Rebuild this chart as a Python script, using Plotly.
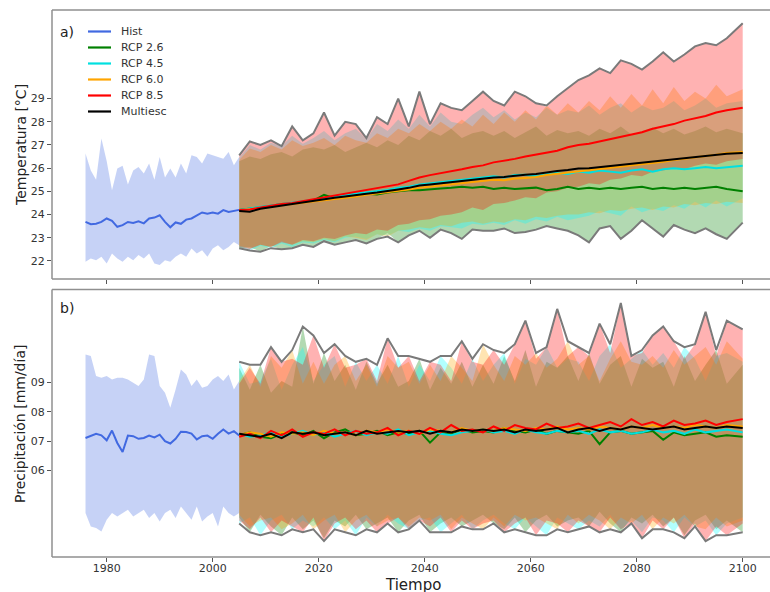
import numpy as np
import plotly.graph_objects as go

# ---------------- DATA ----------------
hist_years = list(range(1976, 2006))
fut_years = list(range(2005, 2099, 2)) + [2100]

# Temperature, historical
hist_temp_mean = [23.68, 23.58, 23.60, 23.68, 23.83, 23.73, 23.47, 23.54, 23.68, 23.64,
                  23.71, 23.62, 23.83, 23.87, 23.97, 23.68, 23.45, 23.66, 23.60, 23.78,
                  23.83, 23.97, 24.09, 24.04, 24.09, 24.04, 24.19, 24.11, 24.16, 24.20]
hist_temp_hi = [26.63, 25.90, 25.50, 27.28, 26.30, 25.05, 25.98, 26.10, 25.30, 25.90,
                26.05, 25.77, 26.20, 25.50, 26.48, 25.60, 25.98, 25.60, 26.20, 25.77,
                26.56, 26.48, 26.20, 26.63, 26.56, 26.48, 26.41, 26.70, 26.13, 26.48]
hist_temp_lo = [21.96, 22.10, 22.03, 22.18, 21.89, 22.32, 22.10, 21.96, 22.18, 22.03,
                22.25, 22.10, 22.32, 21.89, 21.82, 22.03, 21.96, 22.18, 22.32, 22.18,
                22.53, 22.32, 22.46, 22.18, 22.53, 22.68, 22.46, 22.60, 22.82, 22.68]

# Temperature, scenarios (means)
temp_rcp26_mean = [24.20, 24.25, 24.30, 24.38, 24.45, 24.48, 24.55, 24.60,
                   24.85, 24.70, 24.76, 24.82, 24.90, 24.86, 24.95, 25.00,
                   25.05, 25.05, 25.10, 25.12, 25.15, 25.20, 25.15, 25.20,
                   25.10, 25.15, 25.10, 25.12, 25.16, 25.05, 25.10, 25.20,
                   25.10, 25.15, 25.10, 25.15, 25.10, 25.15, 25.20, 25.10,
                   25.15, 25.10, 25.15, 25.10, 25.15, 25.20, 25.10, 25.00]
temp_rcp45_mean = [24.20, 24.26, 24.32, 24.40, 24.45, 24.50, 24.55, 24.62,
                   24.70, 24.76, 24.85, 24.90, 24.96, 25.02, 25.06, 25.15,
                   25.20, 25.30, 25.35, 25.40, 25.48, 25.50, 25.55, 25.60,
                   25.65, 25.60, 25.70, 25.72, 25.65, 25.75, 25.80, 25.75,
                   25.85, 25.80, 25.90, 25.85, 25.80, 25.90, 25.95, 25.85,
                   25.95, 26.00, 25.95, 26.00, 26.05, 26.00, 26.05, 26.10]
temp_rcp60_mean = [24.18, 24.22, 24.28, 24.35, 24.40, 24.45, 24.50, 24.55,
                   24.62, 24.66, 24.72, 24.78, 24.85, 24.90, 24.95, 25.02,
                   25.08, 25.15, 25.20, 25.25, 25.30, 25.36, 25.40, 25.45,
                   25.50, 25.48, 25.55, 25.58, 25.62, 25.70, 25.75, 25.80,
                   25.85, 25.90, 25.95, 26.00, 26.05, 26.10, 26.15, 26.20,
                   26.28, 26.35, 26.40, 26.45, 26.50, 26.58, 26.65, 26.70]
temp_rcp85_mean = [24.20, 24.22, 24.30, 24.38, 24.45, 24.50, 24.58, 24.65,
                   24.72, 24.80, 24.88, 24.95, 25.05, 25.12, 25.20, 25.30,
                   25.45, 25.60, 25.70, 25.78, 25.85, 25.95, 26.05, 26.12,
                   26.25, 26.32, 26.40, 26.50, 26.58, 26.65, 26.75, 26.90,
                   27.00, 27.05, 27.15, 27.25, 27.35, 27.45, 27.55, 27.70,
                   27.80, 27.90, 28.05, 28.15, 28.25, 28.40, 28.50, 28.60]
temp_multi_mean = [24.15, 24.12, 24.25, 24.32, 24.40, 24.45, 24.52, 24.60,
                   24.68, 24.72, 24.78, 24.85, 24.90, 24.95, 25.00, 25.08,
                   25.15, 25.25, 25.30, 25.35, 25.42, 25.45, 25.50, 25.55,
                   25.60, 25.62, 25.68, 25.72, 25.75, 25.82, 25.88, 25.92,
                   25.98, 26.00, 26.05, 26.10, 26.12, 26.18, 26.22, 26.28,
                   26.32, 26.38, 26.42, 26.48, 26.52, 26.58, 26.62, 26.65]

# Temperature, scenario ranges
temp_rcp26_lo = [22.55, 22.60, 22.40, 22.65, 22.50, 22.55, 22.70, 22.60,
                 22.85, 22.70, 22.80, 22.90, 22.75, 22.95, 23.20, 22.80,
                 23.10, 23.30, 23.00, 23.35, 23.20, 22.95, 23.35, 23.30,
                 23.30, 23.40, 23.20, 23.25, 23.35, 23.50, 23.40, 23.30,
                 23.10, 22.80, 23.40, 23.50, 22.95, 23.30, 23.75, 23.40,
                 23.05, 23.55, 23.35, 23.20, 23.40, 23.15, 22.95, 23.65]
temp_rcp26_hi = [26.30, 26.50, 26.40, 26.60, 26.70, 26.50, 26.80, 26.90,
                 26.80, 27.00, 26.70, 26.90, 27.10, 26.90, 27.20, 27.00,
                 27.40, 27.20, 27.60, 27.40, 27.70, 27.30, 27.50, 27.60,
                 27.40, 27.60, 27.30, 27.55, 27.80, 27.40, 27.65, 27.50,
                 27.60, 27.40, 27.70, 27.50, 27.80, 27.45, 27.60, 27.75,
                 27.50, 27.70, 27.45, 27.60, 27.80, 27.55, 27.70, 27.50]
temp_rcp45_lo = [22.60, 22.45, 22.65, 22.55, 22.75, 22.60, 22.80, 22.75,
                 22.90, 22.80, 23.00, 23.05, 22.95, 23.15, 23.10, 23.30,
                 23.25, 23.40, 23.30, 23.50, 23.45, 23.40, 23.60, 23.55,
                 23.65, 23.55, 23.75, 23.60, 23.80, 23.70, 23.90, 23.75,
                 23.85, 23.95, 24.15, 24.05, 23.95, 24.35, 24.10, 24.25,
                 24.15, 24.40, 24.25, 24.55, 24.30, 24.60, 24.35, 24.70]
temp_rcp45_hi = [26.45, 27.00, 26.80, 27.10, 26.95, 27.40, 27.05, 27.30,
                 27.60, 27.20, 27.50, 27.70, 27.25, 27.90, 27.60, 28.10,
                 27.70, 28.30, 27.80, 28.40, 28.00, 27.90, 28.30, 28.60,
                 28.20, 28.50, 28.10, 28.40, 28.20, 28.60, 28.30, 28.50,
                 28.40, 28.70, 28.30, 28.60, 28.80, 28.40, 28.70, 28.50,
                 28.60, 28.90, 28.50, 28.70, 29.00, 28.60, 28.80, 28.90]
temp_rcp60_lo = [22.65, 22.55, 22.70, 22.60, 22.85, 22.70, 22.85, 22.80,
                 22.95, 22.85, 23.05, 23.00, 22.90, 23.15, 23.05, 23.30,
                 23.35, 23.45, 23.40, 23.55, 23.50, 23.65, 23.70, 23.60,
                 23.70, 23.65, 23.80, 23.75, 23.90, 23.85, 23.95, 24.00,
                 24.00, 24.10, 24.05, 24.20, 24.15, 24.25, 24.30, 24.20,
                 24.35, 24.30, 24.45, 24.40, 24.50, 24.45, 24.55, 24.50]
temp_rcp60_hi = [26.35, 26.85, 26.70, 27.00, 26.80, 27.20, 26.95, 27.10,
                 27.30, 27.00, 27.40, 27.20, 27.10, 27.50, 27.30, 27.70,
                 27.50, 27.90, 27.60, 28.00, 27.70, 28.10, 27.80, 28.30,
                 27.90, 28.40, 28.00, 28.50, 28.10, 28.70, 28.30, 28.80,
                 28.40, 28.90, 28.50, 29.10, 28.60, 29.20, 28.70, 29.40,
                 28.80, 29.50, 28.90, 29.30, 29.00, 29.60, 29.10, 29.40]
temp_rcp85_lo = [22.60, 22.50, 22.70, 22.60, 22.80, 22.70, 22.90, 22.85,
                 23.00, 22.95, 23.10, 23.20, 23.15, 23.35, 23.30, 23.55,
                 23.60, 23.75, 23.80, 23.95, 24.00, 24.10, 24.30, 24.20,
                 24.45, 24.50, 24.60, 24.75, 24.70, 24.95, 25.00, 25.15,
                 25.20, 25.35, 25.30, 25.50, 25.55, 25.70, 25.65, 25.85,
                 25.90, 26.00, 25.95, 26.10, 26.20, 26.15, 26.30, 26.40]
temp_rcp85_hi = [26.55, 27.15, 27.00, 27.20, 26.90, 27.80, 27.20, 27.50,
                 28.40, 27.40, 28.00, 27.90, 27.30, 28.20, 27.90, 29.00,
                 27.80, 29.30, 27.90, 28.80, 28.60, 28.50, 28.90, 29.30,
                 28.90, 28.70, 29.30, 29.10, 28.80, 28.65, 29.10, 29.45,
                 29.80, 30.00, 30.30, 30.10, 30.65, 30.50, 30.25, 30.60,
                 31.00, 30.60, 30.90, 31.25, 31.40, 31.30, 31.60, 32.25]

# Precipitation, historical
hist_prec_mean = [7.11, 7.19, 7.25, 7.20, 7.03, 7.36, 6.94, 6.63, 7.19, 7.17,
                  7.08, 7.11, 7.19, 7.13, 7.22, 7.00, 6.92, 7.08, 7.32, 7.31,
                  7.26, 7.06, 7.17, 7.19, 7.08, 7.25, 7.40, 7.26, 7.34, 7.19]
hist_prec_hi = [9.95, 9.90, 9.22, 9.16, 9.22, 9.10, 9.16, 9.16, 9.10, 8.99,
                8.88, 9.10, 9.95, 9.90, 8.88, 8.65, 8.14, 8.76, 9.44, 9.27,
                8.88, 9.10, 8.82, 8.88, 9.10, 9.22, 9.05, 9.27, 8.76, 9.05]
hist_prec_lo = [4.56, 4.10, 4.05, 3.93, 4.33, 4.56, 4.44, 4.56, 4.67, 4.44,
                4.56, 4.67, 4.39, 4.56, 4.27, 4.56, 4.67, 4.39, 4.78, 4.56,
                4.33, 4.78, 4.27, 4.44, 4.56, 4.10, 4.78, 4.56, 4.44, 4.56]

# Precipitation, scenarios (means)
prec_rcp26_mean = [7.20, 7.30, 7.15, 7.10, 7.25, 7.30, 7.20, 7.35,
                   7.10, 7.30, 7.40, 7.20, 7.25, 7.35, 7.20, 7.30,
                   7.25, 7.35, 6.95, 7.30, 7.25, 7.40, 7.30, 7.35,
                   7.30, 7.45, 7.35, 7.30, 7.40, 7.25, 7.35, 7.30,
                   7.25, 7.35, 6.90, 7.30, 7.35, 7.25, 7.30, 7.35,
                   7.05, 7.30, 7.20, 7.25, 7.30, 7.15, 7.20, 7.15]
prec_rcp45_mean = [7.25, 7.15, 7.20, 7.30, 7.15, 7.25, 7.35, 7.20,
                   7.30, 7.15, 7.25, 7.35, 7.20, 7.30, 7.25, 7.40,
                   7.20, 7.30, 7.35, 7.25, 7.20, 7.30, 7.35, 7.40,
                   7.30, 7.35, 7.25, 7.40, 7.30, 7.25, 7.35, 7.30,
                   7.35, 7.25, 7.40, 7.30, 7.35, 7.25, 7.30, 7.40,
                   7.30, 7.35, 7.25, 7.40, 7.30, 7.35, 7.40, 7.30]
prec_rcp60_mean = [7.20, 7.30, 7.25, 7.15, 7.30, 7.25, 7.30, 7.20,
                   7.35, 7.25, 7.30, 7.20, 7.35, 7.30, 7.40, 7.30,
                   7.35, 7.25, 7.40, 7.35, 7.30, 7.45, 7.35, 7.40,
                   7.35, 7.45, 7.40, 7.35, 7.45, 7.40, 7.50, 7.40,
                   7.45, 7.40, 7.50, 7.45, 7.40, 7.50, 7.45, 7.55,
                   7.45, 7.50, 7.45, 7.55, 7.50, 7.45, 7.55, 7.50]
prec_rcp85_mean = [7.15, 7.25, 7.10, 7.35, 7.20, 7.40, 7.15, 7.30,
                   7.25, 7.40, 7.20, 7.35, 7.25, 7.30, 7.45, 7.20,
                   7.35, 7.25, 7.45, 7.30, 7.55, 7.35, 7.40, 7.30,
                   7.50, 7.35, 7.55, 7.45, 7.40, 7.60, 7.45, 7.50,
                   7.60, 7.45, 7.55, 7.65, 7.50, 7.75, 7.55, 7.65,
                   7.50, 7.70, 7.55, 7.60, 7.70, 7.55, 7.65, 7.75]
prec_multi_mean = [7.25, 7.20, 7.15, 7.25, 7.10, 7.30, 7.25, 7.30,
                   7.20, 7.25, 7.30, 7.20, 7.35, 7.25, 7.30, 7.35,
                   7.30, 7.35, 7.25, 7.35, 7.30, 7.40, 7.35, 7.40,
                   7.35, 7.40, 7.30, 7.40, 7.35, 7.40, 7.45, 7.30,
                   7.40, 7.45, 7.35, 7.45, 7.40, 7.50, 7.45, 7.40,
                   7.45, 7.50, 7.40, 7.45, 7.50, 7.45, 7.50, 7.45]

# Precipitation, scenario ranges
prec_rcp26_hi = [9.50, 8.75, 9.60, 8.65, 9.05, 8.85, 10.90, 8.95,
                 10.00, 9.05, 9.60, 8.75, 9.70, 8.95, 9.60, 8.85,
                 9.05, 9.80, 8.75, 9.50, 8.95, 9.70, 8.85, 9.60,
                 8.95, 9.90, 9.05, 10.10, 8.85, 9.70, 9.50, 9.90,
                 9.05, 10.00, 8.95, 9.60, 9.90, 8.85, 9.80, 9.50,
                 9.70, 8.85, 9.90, 9.05, 9.60, 10.10, 8.95, 9.60]
prec_rcp26_lo = [4.40, 3.90, 4.50, 4.10, 3.80, 4.40, 4.00, 4.30,
                 3.70, 4.30, 4.10, 4.50, 4.00, 4.20, 4.40, 3.90,
                 4.30, 4.50, 3.90, 4.20, 4.40, 4.10, 4.30, 4.50,
                 4.20, 4.00, 4.40, 3.90, 4.30, 4.50, 4.10, 4.30,
                 4.40, 4.10, 4.60, 4.20, 3.90, 4.40, 4.20, 4.50,
                 4.10, 4.40, 3.80, 4.30, 4.50, 4.00, 4.30, 3.90]
prec_rcp45_hi = [9.70, 8.95, 9.05, 9.80, 8.75, 9.60, 10.20, 9.05,
                 9.60, 9.90, 8.85, 9.70, 9.05, 9.60, 8.95, 9.90,
                 8.85, 9.60, 9.05, 9.90, 9.50, 8.95, 9.80, 9.05,
                 9.60, 10.00, 8.95, 9.80, 9.60, 10.20, 9.50, 9.80,
                 9.70, 9.05, 9.90, 10.30, 9.50, 9.80, 10.10, 9.60,
                 10.00, 9.50, 10.20, 9.80, 9.05, 9.90, 10.00, 9.70]
prec_rcp45_lo = [4.20, 4.40, 3.80, 4.30, 4.50, 4.00, 4.30, 4.10,
                 4.40, 4.00, 4.30, 3.80, 4.40, 4.10, 4.50, 4.20,
                 4.00, 4.30, 4.40, 3.90, 4.20, 4.50, 4.00, 4.30,
                 4.50, 4.20, 4.00, 4.40, 4.10, 3.80, 4.40, 4.20,
                 4.00, 4.30, 4.10, 4.50, 4.00, 4.30, 3.90, 4.40,
                 4.30, 3.90, 4.40, 4.10, 4.30, 3.80, 4.20, 4.40]
prec_rcp60_hi = [9.05, 9.60, 8.85, 9.90, 9.50, 10.10, 8.95, 9.70,
                 8.95, 9.60, 9.90, 9.05, 9.60, 8.85, 9.90, 9.50,
                 9.70, 8.95, 9.60, 9.05, 9.90, 9.50, 9.05, 10.30,
                 9.60, 9.05, 9.90, 9.60, 10.00, 9.50, 9.80, 10.40,
                 9.60, 9.90, 9.05, 9.80, 10.40, 9.70, 9.60, 9.90,
                 9.50, 10.10, 9.60, 9.90, 10.20, 9.60, 10.40, 9.80]
prec_rcp60_lo = [4.50, 4.10, 4.30, 4.40, 4.00, 4.20, 4.50, 4.00,
                 4.30, 4.50, 3.90, 4.30, 4.50, 4.10, 4.30, 4.40,
                 4.10, 4.40, 4.30, 4.50, 4.00, 4.40, 4.20, 4.00,
                 4.40, 4.10, 4.50, 4.30, 4.40, 4.20, 4.00, 4.50,
                 4.20, 4.50, 4.30, 4.00, 4.40, 4.20, 4.50, 4.00,
                 4.40, 4.20, 4.50, 4.10, 4.00, 4.40, 4.10, 4.30]
prec_rcp85_hi = [8.95, 9.50, 8.95, 10.20, 9.70, 9.80, 9.60, 10.60,
                 9.50, 10.30, 9.50, 9.60, 9.80, 9.05, 10.50, 9.50,
                 9.90, 9.05, 9.70, 9.60, 9.05, 10.40, 9.70, 9.60,
                 10.10, 9.60, 10.30, 11.10, 9.80, 10.20, 11.50, 9.90,
                 10.20, 9.90, 11.00, 10.00, 11.70, 9.90, 10.00, 10.60,
                 10.90, 10.40, 9.80, 10.30, 11.40, 9.90, 11.10, 10.80]
prec_rcp85_lo = [4.30, 4.00, 4.40, 3.90, 4.30, 4.10, 3.90, 4.40,
                 3.60, 4.20, 4.40, 4.00, 4.30, 3.90, 4.20, 4.40,
                 4.00, 4.30, 4.10, 4.40, 3.90, 4.30, 4.00, 4.20,
                 4.30, 3.90, 4.20, 4.40, 3.80, 4.30, 4.20, 3.90,
                 4.30, 4.10, 3.90, 4.40, 4.00, 4.20, 3.70, 4.30,
                 4.00, 4.40, 3.70, 4.20, 3.60, 4.10, 3.80, 4.20]

legend_labels = ["Hist", "RCP 2.6", "RCP 4.5", "RCP 6.0", "RCP 8.5", "Multiesc"]
x_ticks = [1980, 2000, 2020, 2040, 2060, 2080, 2100]
temp_ticks = [22, 23, 24, 25, 26, 27, 28, 29]
prec_ticks = [6, 7, 8, 9]
prec_tick_text = ["06", "07", "08", "09"]

# ---------------- STYLE ----------------
# the figure is wider than the window so that the plot's right edge
# (cropped in the reference) falls outside the picture
W, H = 790, 592
ML, MR, MT, MB = 52, 0, 10, 35
PW, PH = W - ML - MR, H - MT - MB
FONT = "DejaVu Sans"

line_colors = ["#4169E1", "#008000", "#00e0e0", "#FFA500", "#FF0000", "#000000"]
hist_fill = "rgba(65,105,225,0.30)"
band_fills = ["rgba(0,128,0,0.30)", "rgba(0,255,255,0.30)",
              "rgba(255,165,0,0.30)", "rgba(255,0,0,0.30)"]
env_color = "#7a7a7a"
frame_color = "#8f8f8f"


def px_x(px):
    return (px - ML) / PW


def px_y(py):
    return (H - MB - py) / PH


fig = go.Figure()


def add_band(x, lo, hi, color, xa, ya):
    fig.add_trace(go.Scatter(
        x=list(x) + list(x)[::-1], y=list(hi) + list(lo)[::-1],
        fill="toself", fillcolor=color, line=dict(width=0),
        mode="lines", hoverinfo="skip", showlegend=False, xaxis=xa, yaxis=ya))


def add_line(x, y, color, xa, ya, width=2.0):
    fig.add_trace(go.Scatter(x=x, y=y, mode="lines", line=dict(color=color, width=width),
                             showlegend=False, xaxis=xa, yaxis=ya))


panels = [
    ("x2", "y2", hist_temp_mean, hist_temp_lo, hist_temp_hi,
     [temp_rcp26_mean, temp_rcp45_mean, temp_rcp60_mean, temp_rcp85_mean, temp_multi_mean],
     [(temp_rcp26_lo, temp_rcp26_hi), (temp_rcp45_lo, temp_rcp45_hi),
      (temp_rcp60_lo, temp_rcp60_hi), (temp_rcp85_lo, temp_rcp85_hi)]),
    ("x", "y", hist_prec_mean, hist_prec_lo, hist_prec_hi,
     [prec_rcp26_mean, prec_rcp45_mean, prec_rcp60_mean, prec_rcp85_mean, prec_multi_mean],
     [(prec_rcp26_lo, prec_rcp26_hi), (prec_rcp45_lo, prec_rcp45_hi),
      (prec_rcp60_lo, prec_rcp60_hi), (prec_rcp85_lo, prec_rcp85_hi)]),
]

for xa, ya, hm, hlo, hhi, means, bands in panels:
    add_band(hist_years, hlo, hhi, hist_fill, xa, ya)
    for (lo, hi), col in zip(bands, band_fills):
        add_band(fut_years, lo, hi, col, xa, ya)
    env_hi = np.max(np.array([b[1] for b in bands]), axis=0)
    env_lo = np.min(np.array([b[0] for b in bands]), axis=0)
    add_line(fut_years, env_hi, env_color, xa, ya, width=2)
    add_line(fut_years, env_lo, env_color, xa, ya, width=2)
    add_line(hist_years, hm, line_colors[0], xa, ya)
    for m, col in zip(means, line_colors[1:]):
        add_line(fut_years, m, col, xa, ya)

frame = dict(showline=False, showgrid=False, zeroline=False, ticks="outside",
             ticklen=4, tickwidth=1, tickcolor="#555555",
             tickfont=dict(family=FONT, size=11, color="#333333"))
xrange_ = [1969.68, 1969.68 + PW / 5.3]
top_dom = [(H - MB - 279) / PH, 1.0]
bot_dom = [0.0, (H - MB - 289.5) / PH]

fig.update_layout(
    width=W, height=H, margin=dict(l=ML, r=MR, t=MT, b=MB),
    paper_bgcolor="white", plot_bgcolor="white", showlegend=False,
    font=dict(family=FONT, color="#333333"),
    xaxis=dict(frame, range=xrange_, tickvals=x_ticks, anchor="y",
               ticklabelstandoff=-3),
    xaxis2=dict(frame, range=xrange_, tickvals=x_ticks, anchor="y2",
                showticklabels=False, matches="x"),
    yaxis=dict(frame, domain=bot_dom, range=[3.06, 12.16], tickvals=prec_ticks,
               ticktext=prec_tick_text, anchor="x"),
    yaxis2=dict(frame, domain=top_dom, range=[21.22, 32.82], tickvals=temp_ticks,
                anchor="x2"),
)

shapes = []
# panel frames (top, bottom, left; right side lies outside the picture)
for y0, y1 in (top_dom, bot_dom):
    for yy in (y0, y1):
        shapes.append(dict(type="line", xref="paper", yref="paper", x0=0, x1=1,
                           y0=yy, y1=yy, line=dict(color=frame_color, width=1.5)))
    shapes.append(dict(type="line", xref="paper", yref="paper", x0=0, x1=0,
                       y0=y0, y1=y1, line=dict(color=frame_color, width=1.5)))

annotations = []
for i, (lab, col) in enumerate(zip(legend_labels, line_colors)):
    yy = px_y(31.5 + 16 * i)
    shapes.append(dict(type="line", xref="paper", yref="paper",
                       x0=px_x(88), x1=px_x(111), y0=yy, y1=yy,
                       line=dict(color=col, width=2.2)))
    annotations.append(dict(text=lab, xref="paper", yref="paper", x=px_x(119), y=yy,
                            xanchor="left", yanchor="middle", showarrow=False,
                            font=dict(family=FONT, size=11, color="#333333")))

annotations += [
    dict(text="a)", xref="paper", yref="paper", x=px_x(58), y=px_y(32),
         xanchor="left", yanchor="middle", showarrow=False,
         font=dict(family=FONT, size=14, color="#222222")),
    dict(text="b)", xref="paper", yref="paper", x=px_x(58), y=px_y(308),
         xanchor="left", yanchor="middle", showarrow=False,
         font=dict(family=FONT, size=14, color="#222222")),
    dict(text="Temperatura [°C]", xref="paper", yref="paper", x=px_x(21), y=px_y(145),
         xanchor="center", yanchor="middle", textangle=-90, showarrow=False,
         font=dict(family=FONT, size=14, color="#222222")),
    dict(text="Precipitación [mm/día]", xref="paper", yref="paper", x=px_x(20), y=px_y(424),
         xanchor="center", yanchor="middle", textangle=-90, showarrow=False,
         font=dict(family=FONT, size=14, color="#222222")),
    dict(text="Tiempo", xref="paper", yref="paper", x=px_x(413), y=px_y(585),
         xanchor="center", yanchor="middle", showarrow=False,
         font=dict(family=FONT, size=15, color="#222222")),
]
fig.update_layout(shapes=shapes, annotations=annotations)

fig.write_html("out.html", config={"displayModeBar": False},
               post_script=("document.documentElement.style.overflow='hidden';"
                            "document.body.style.margin='0';"
                            "document.body.style.overflow='hidden';"))
